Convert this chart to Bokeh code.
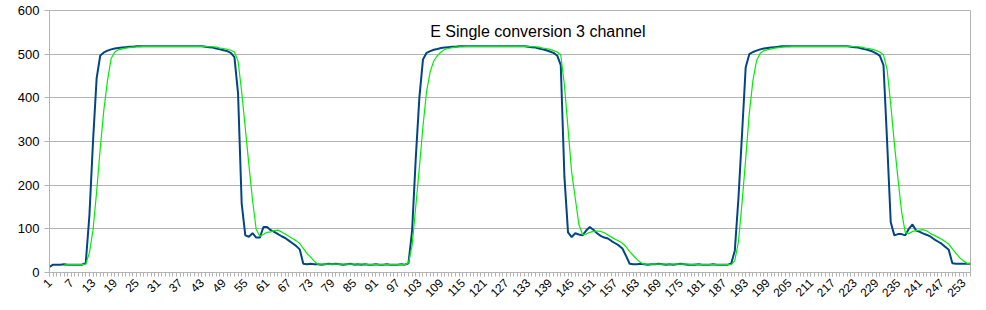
import math
from bokeh.plotting import figure
from bokeh.models import Range1d, FixedTicker, Label
from bokeh.embed import file_html
from bokeh.resources import INLINE

nan = float("nan")

# sample index (categories 1..255)
categories = list(range(1, 256))
x_tick_labels = [1, 7, 13, 19, 25, 31, 37, 43, 49, 55, 61, 67, 73, 79, 85, 91, 97,
                 103, 109, 115, 121, 127, 133, 139, 145, 151, 157, 163, 169, 175,
                 181, 187, 193, 199, 205, 211, 217, 223, 229, 235, 241, 247, 253]
y_ticks = [0, 100, 200, 300, 400, 500, 600]
title_text = "E Single conversion 3 channel"

blue = [
    13, 18, 18, 18, 19, 18, 18, 18, 18, 18,
    22, 130, 300, 445, 497, 504, 508, 511, 513, 514,
    515, 516, 517, 517, 518, 518, 518, 518, 518, 518,
    518, 518, 518, 518, 518, 518, 518, 518, 518, 518,
    518, 518, 518, 517, 516, 515, 513, 511, 509, 507,
    503, 493, 410, 158, 85, 82, 90, 80, 80, 104,
    104, 97, 93, 88, 83, 79, 73, 67, 61, 53,
    20, 19, 20, 19, 19, 18, 19, 20, 19, 20,
    19, 18, 19, 20, 18, 19, 18, 19, 18,
    18, 19, 18, 18, 19, 18, 18, 18, 19, 18,
    21, 96, 260, 400, 488, 503, 507, 510, 512, 514,
    515, 516, 517, 517, 518, 518, 518, 518, 518, 518,
    518, 518, 518, 518, 518, 518, 518, 518, 518, 518,
    518, 518, 518, 517, 516, 515, 513, 511, 509, 506,
    503, 497, 475, 220, 92, 81, 90, 87, 85, 96,
    104, 98, 90, 84, 80, 78, 72, 67, 62, 55,
    38, 20, 19, 19, 20, 19, 18, 19, 19, 20,
    19, 18, 19, 18, 19, 20, 19, 18, 18,
    18, 19, 18, 18, 18, 19, 18, 18, 18, 18,
    20, 50, 170, 318, 470, 500, 505, 508, 511, 513,
    514, 515, 516, 517, 518, 518, 518, 518, 518, 518,
    518, 518, 518, 518, 518, 518, 518, 518, 518, 518,
    518, 518, 518, 517, 516, 515, 513, 511, 509, 506,
    502, 496, 475, 300, 115, 85, 88, 88, 85, 100,
    110, 96, 93, 89, 86, 82, 76, 71, 66, 59,
    52, 21, 20, 20, 20, 20, 20,
]

green = [
    nan, nan, nan, nan, 17, 18, 18, 18, 18, 18,
    19, 45, 97, 185, 285, 373, 440, 490, 505, 510,
    512, 514, 515, 516, 517, 517, 518, 518, 518, 518,
    518, 518, 518, 518, 518, 518, 518, 518, 518, 518,
    518, 518, 518, 518, 517, 517, 516, 514, 513, 511,
    509, 505, 484, 414, 330, 246, 165, 99, 83, 87,
    92, 93, 96, 97, 93, 88, 83, 78, 73, 67,
    55, 44, 35, 26, 19, 19, 19, 19, 19, 19,
    19, 19, 19, 19, 19, 19, 19, 19, 18,
    18, 18, 18, 18, 18, 18, 18, 18, 18, 18,
    22, 62, 150, 240, 335, 415, 460, 485, 497, 505,
    511, 513, 515, 516, 517, 517, 518, 518, 518, 518,
    518, 518, 518, 518, 518, 518, 518, 518, 518, 518,
    518, 518, 518, 518, 517, 517, 516, 514, 513, 511,
    508, 505, 498, 430, 330, 230, 170, 110, 87, 88,
    92, 94, 95, 94, 91, 86, 81, 76, 72, 67,
    59, 48, 39, 30, 23, 19, 19, 19, 19, 19,
    19, 19, 19, 19, 19, 19, 19, 19, 18,
    19, 18, 18, 18, 18, 18, 18, 18, 18, 18,
    18, 27, 70, 160, 260, 365, 440, 485, 502, 508,
    510, 512, 514, 515, 516, 517, 517, 518, 518, 518,
    518, 518, 518, 518, 518, 518, 518, 518, 518, 518,
    518, 518, 518, 518, 517, 517, 516, 514, 513, 511,
    508, 505, 498, 465, 385, 295, 215, 139, 92, 89,
    94, 96, 97, 98, 95, 89, 85, 81, 76, 71,
    65, 54, 44, 34, 27, 21, 20,
]

GRID = "#b3b3b3"
FONT = "Liberation Sans"

p = figure(width=986, height=310, output_backend="svg", toolbar_location=None,
           x_range=Range1d(categories[0], categories[-1]),
           y_range=Range1d(y_ticks[0], y_ticks[-1]),
           min_border_left=49, min_border_right=16,
           min_border_top=10, min_border_bottom=38)
p.background_fill_color = "white"
p.border_fill_color = "white"
p.outline_line_color = GRID
p.outline_line_width = 1

p.xgrid.visible = False
p.ygrid.ticker = FixedTicker(ticks=y_ticks)
p.ygrid.grid_line_color = GRID
p.ygrid.grid_line_width = 1

yax = p.yaxis[0]
yax.ticker = FixedTicker(ticks=y_ticks)
yax.axis_line_color = GRID
yax.major_tick_line_color = GRID
yax.major_tick_out = 5
yax.major_tick_in = 0
yax.minor_tick_out = 0
yax.minor_tick_in = 0
yax.major_label_standoff = 5
yax.major_label_text_font = FONT
yax.major_label_text_font_size = "13px"
yax.major_label_text_color = "black"

xax = p.xaxis[0]
xax.ticker = FixedTicker(ticks=x_tick_labels, minor_ticks=categories)
xax.axis_line_color = GRID
xax.major_tick_line_color = GRID
xax.minor_tick_line_color = GRID
xax.major_tick_out = 4
xax.major_tick_in = 0
xax.minor_tick_out = 4
xax.minor_tick_in = 0
xax.major_label_orientation = math.pi / 4
xax.major_label_standoff = 4
xax.major_label_text_font = FONT
xax.major_label_text_font_size = "12px"
xax.major_label_text_color = "black"

p.line(categories, blue, line_color="#004586", line_width=2)
p.line(categories, green, line_color="#00ee00", line_width=1.2)

p.add_layout(Label(x=106, y=553, text=title_text, text_font=FONT,
                   text_font_size="16px", text_color="black",
                   text_baseline="middle", text_align="left"))

open("out.html", "w").write(file_html(p, INLINE))
